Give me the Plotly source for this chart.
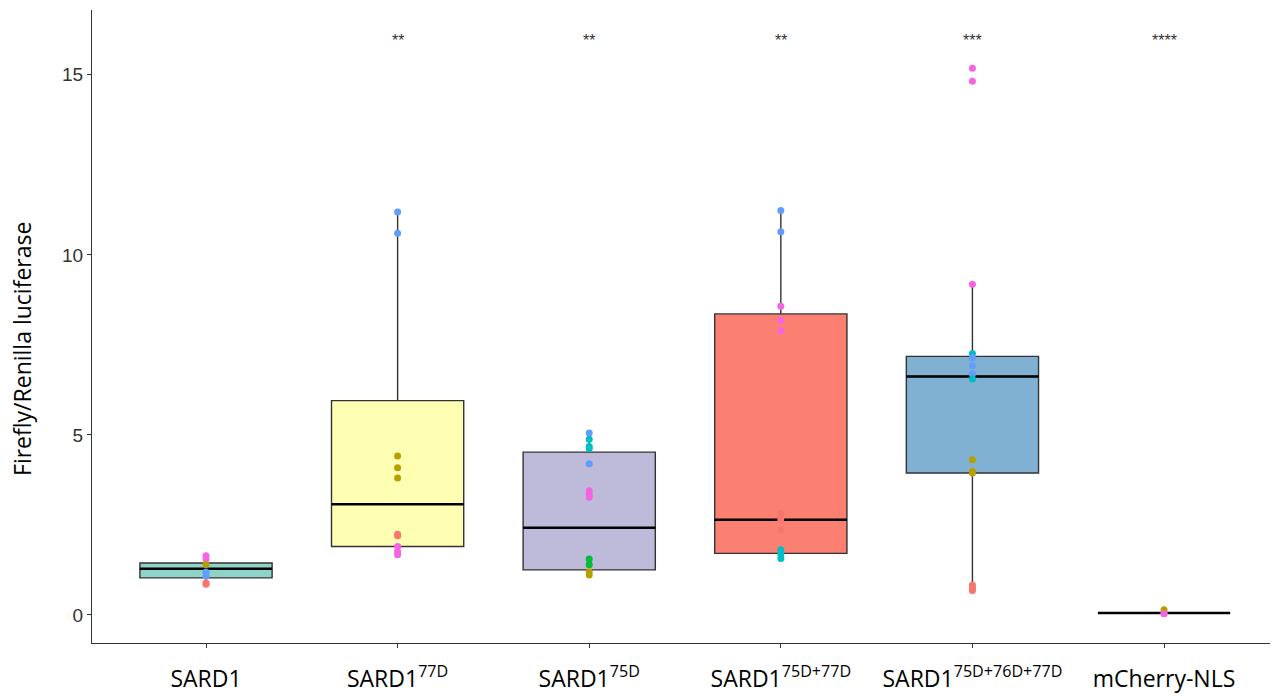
import plotly.graph_objects as go

categories = ["SARD1", "SARD1<sup>77D</sup>", "SARD1<sup>75D</sup>", "SARD1<sup>75D+77D</sup>",
              "SARD1<sup>75D+76D+77D</sup>", "mCherry-NLS"]
box_colors = ["#8DD3C7", "#FFFFB3", "#BEBADA", "#FB8072", "#80B1D3", "#FDB462"]

q1 = [1.03, 1.90, 1.25, 1.71, 3.94, 0.05]
median = [1.28, 3.07, 2.42, 2.64, 6.62, 0.05]
q3 = [1.44, 5.95, 4.52, 8.36, 7.18, 0.05]
lowerfence = [0.85, 1.67, 1.11, 1.57, 0.68, 0.03]
upperfence = [1.64, 11.19, 5.05, 11.23, 9.18, 0.14]

significance = ["", "**", "**", "**", "***", "****"]
y_title = "Firefly/Renilla luciferase"

group_colors = {"A": "#F8766D", "B": "#B79F00", "C": "#00BA38",
                "D": "#00BFC4", "E": "#619CFF", "F": "#F564E3"}

point_values = [
    [1.64, 1.55, 1.40, 1.19, 1.08, 0.89, 0.85],
    [11.19, 10.60, 4.41, 4.09, 3.80, 2.24, 2.20, 1.90, 1.76, 1.67],
    [5.05, 4.88, 4.68, 4.62, 4.20, 3.45, 3.35, 3.27, 1.55, 1.39, 1.20, 1.11],
    [11.23, 10.64, 8.57, 8.18, 7.89, 2.81, 2.64, 2.36, 1.81, 1.69, 1.57],
    [15.18, 14.82, 9.18, 7.26, 7.14, 6.92, 6.69, 6.55, 4.31, 3.98, 3.94, 0.83, 0.75, 0.68],
    [0.04, 0.14, 0.03],
]
point_groups = [
    ["F", "F", "B", "E", "E", "A", "A"],
    ["E", "E", "B", "B", "B", "A", "A", "F", "F", "F"],
    ["E", "D", "D", "D", "E", "F", "F", "F", "C", "C", "B", "B"],
    ["E", "E", "F", "F", "F", "A", "A", "A", "D", "D", "D"],
    ["F", "F", "F", "D", "E", "E", "E", "D", "B", "B", "B", "A", "A", "A"],
    ["A", "B", "F"],
]

box_width = 0.69
fig = go.Figure()

for i, cat in enumerate(categories):
    fig.add_trace(go.Box(
        x=[i], q1=[q1[i]], median=[median[i]], q3=[q3[i]],
        lowerfence=[lowerfence[i]], upperfence=[upperfence[i]],
        width=box_width, fillcolor=box_colors[i],
        line=dict(color="#333333", width=1.4), whiskerwidth=0,
        boxpoints=False, showlegend=False, hoverinfo="skip",
    ))
    fig.add_trace(go.Scatter(
        x=[i - box_width / 2, i + box_width / 2], y=[median[i], median[i]],
        mode="lines", line=dict(color="black", width=2.5),
        showlegend=False, hoverinfo="skip",
    ))

for i, vals in enumerate(point_values):
    fig.add_trace(go.Scatter(
        x=[i] * len(vals), y=vals, mode="markers",
        marker=dict(size=7, color=[group_colors[g] for g in point_groups[i]]),
        showlegend=False,
    ))

for i, s in enumerate(significance):
    if s:
        fig.add_annotation(x=i, y=15.95, text=s, showarrow=False,
                           font=dict(size=16, color="#333333", family="Arial"))

fig.add_annotation(xref="paper", yref="paper", x=0, y=0.4645, xshift=-70,
                   text=y_title, textangle=-90, showarrow=False,
                   xanchor="center", yanchor="middle",
                   font=dict(size=23, color="black", family="Open Sans, sans-serif"))

fig.update_layout(
    width=1272, height=688,
    margin=dict(l=84, r=10, t=2, b=53),
    plot_bgcolor="white", paper_bgcolor="white",
    font=dict(family="Open Sans, sans-serif"),
)
fig.update_xaxes(
    range=[-0.595, 5.553], tickmode="array", tickvals=list(range(len(categories))),
    ticktext=categories, showgrid=False, zeroline=False, automargin=False,
    showline=True, linecolor="#333333", linewidth=1.3,
    ticks="outside", ticklen=4, tickcolor="#333333", ticklabelstandoff=11,
    tickfont=dict(size=23, color="black", family="Open Sans, sans-serif"),
)
fig.update_yaxes(
    range=[-0.78, 16.8], tickvals=[0, 5, 10, 15], showgrid=False, zeroline=False,
    automargin=False,
    showline=True, linecolor="#333333", linewidth=1.3,
    ticks="outside", ticklen=4, tickcolor="#333333",
    tickfont=dict(size=19, color="#333333", family="Arial, Liberation Sans"),
)

fig.write_html("out.html")
